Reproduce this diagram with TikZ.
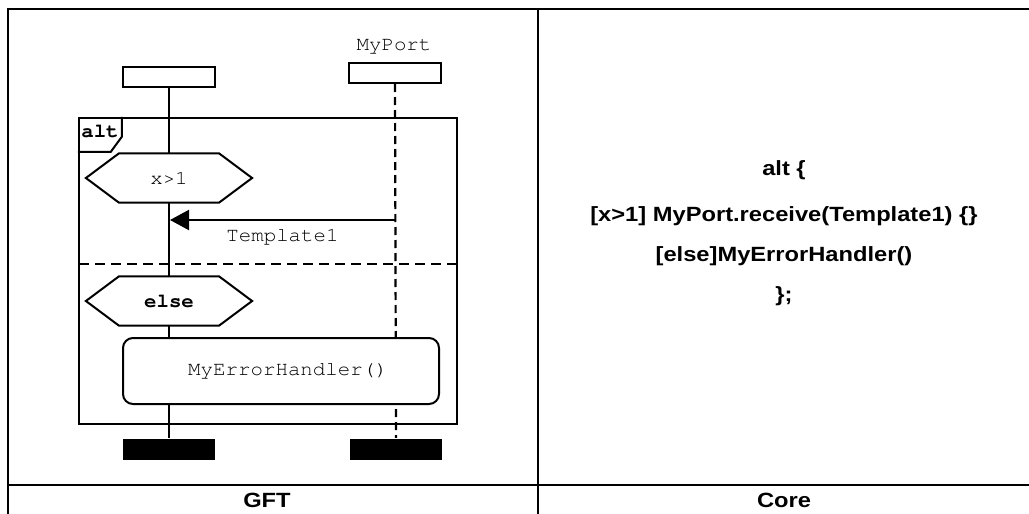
\documentclass[tikz,border=0pt]{standalone}
\usepackage{fontspec}
\newfontfamily\gftfont{TeX Gyre Cursor}[FakeStretch=1.05]
\newfontfamily\corefont{Liberation Sans}[FakeStretch=1.15]
\usepackage{tikz}
\usetikzlibrary{arrows.meta}

\newcommand\hexguard[4]{%
  \node[guard] (#1) at (#2,#3) {};
  \draw[hexline] (#1.west) -- ([xshift=33pt]#1.north west) -- ([xshift=-33pt]#1.north east)
    -- (#1.east) -- ([xshift=-33pt]#1.south east) -- ([xshift=33pt]#1.south west) -- cycle;
  \node[gft] (#1-text) at (#1) {#4};}

\begin{document}
\begin{tikzpicture}[x=1pt,y=-1pt,line width=2.2pt,>={Triangle[length=19pt,width=20pt]},
  gft/.style={font=\gftfont\fontsize{19.8}{22}\selectfont},
  core/.style={font=\corefont\bfseries\fontsize{20.6}{24}\selectfont},
  instbox/.style={draw,line width=2pt,fill=white,minimum width=92pt,minimum height=20pt,inner sep=0pt},
  endbar/.style={fill=black,minimum width=92pt,minimum height=21pt,inner sep=0pt},
  guard/.style={minimum width=164pt,minimum height=47pt,inner sep=0pt},
  hexline/.style={draw,fill=white,line width=2pt},
  portline/.style={dash pattern=on 8pt off 5pt},
  altline/.style={dash pattern=on 10pt off 6pt}]
\useasboundingbox (0,0) rectangle (1029,514);
\clip (0,0) rectangle (1029,514);
\draw[line width=2.4pt] (7.7,520) -- (7.7,8.7) -- (1040,8.7);
\draw[line width=2.4pt] (538,8.7) -- (538,520);
\draw[line width=2.4pt] (7.7,485) -- (1040,485);
\node[core] (gftlbl) at (267,500) {GFT};
\node[core] (corelbl) at (784,500) {Core};

\node[instbox] (inst1) at (169,77) {};
\node[instbox] (inst2) at (395,73) {};
\node[gft] (portname) at (394,47) {MyPort};
\node[endbar] (end1) at (169,449.5) {};
\node[endbar] (end2) at (396,449.5) {};
\draw (inst1.south) -- (end1.north);
\draw[portline] (inst2.south) -- (end2.north);

\node[draw,line width=2.4pt,minimum width=378pt,minimum height=306pt,inner sep=0pt] (altframe) at (268,271) {};
\draw[line width=2pt] ([xshift=44pt]altframe.north west) -- ++(0,20) -- ++(-11,15) -- ++(-33,0);
\node[gft,font=\gftfont\bfseries\fontsize{19.8}{22}\selectfont] (alttag) at (100,131) {alt};
\coordinate (sepL) at (79,264);
\coordinate (sepR) at (457,264);
\draw[altline] (sepL) -- (sepR);

\hexguard{cond1}{169}{178}{x>1}
\hexguard{cond2}{169}{301}{\bfseries else}

\coordinate (recvR) at (395,220);
\coordinate (recvL) at (170,220);
\draw[->] (recvR) -- node[gft,midway,yshift=-17pt] (msglabel) {Template1} (recvL);

\node[draw,fill=white,rounded corners=10pt,line width=2pt,minimum width=316pt,minimum height=66pt,inner sep=0pt] (handler) at (281,371) {};
\node[gft] (handlertext) at (288,371) {MyErrorHandler()};

\node[core] (code1) at (784,170) {alt \{};
\node[core] (code2) at (784,216) {[x>1] MyPort.receive(Template1) \{\}};
\node[core] (code3) at (784,256) {[else]MyErrorHandler()};
\node[core] (code4) at (784,296) {\};};
\end{tikzpicture}
\end{document}
